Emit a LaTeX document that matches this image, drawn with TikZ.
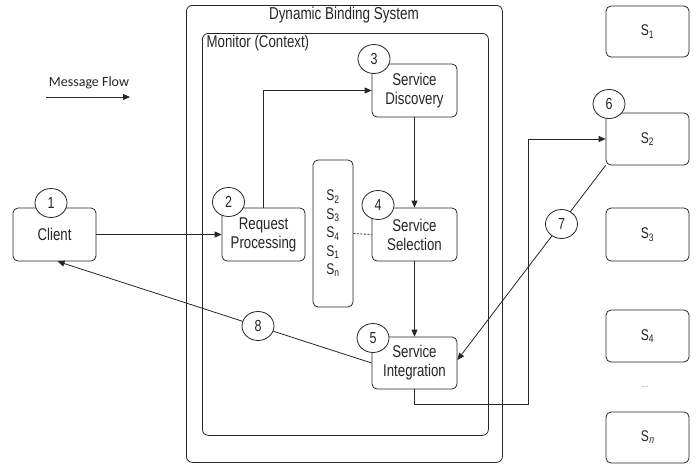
\documentclass[tikz,border=0pt]{standalone}
\usepackage{fontspec}
\setmainfont{Liberation Sans}[FakeStretch=0.78]
\newfontfamily\slsans{Liberation Sans}[FakeStretch=0.78, FakeSlant=0.2]
\newfontfamily\carl{Carlito}
\usetikzlibrary{arrows.meta,shapes.geometric}
\begin{document}
\begin{tikzpicture}[x=1pt,y=-1pt,
  every node/.style={font=\fontsize{17}{19}\selectfont, text=black!85},
  box/.style={draw=black!85, line width=0.8pt, rounded corners=5pt, fill=white, inner sep=0pt, align=center},
  sbox/.style={box, font=\fontsize{15.5}{18.5}\selectfont},
  frame/.style={draw=black!85, line width=0.8pt, rounded corners=6pt, inner sep=0pt},
  num/.style={draw=black!85, line width=0.8pt, ellipse, fill=white, minimum width=32pt, minimum height=29pt, inner sep=0pt, font=\fontsize{16}{18}\selectfont},
  ln/.style={line width=0.8pt, draw=black!85},
  arr/.style={ln, -{Triangle[length=7pt,width=6pt]}}
]
\useasboundingbox (0,0) rectangle (696,464);
% frames
\node[frame, minimum width=316pt, minimum height=457pt, anchor=north west] (dbs) at (186,5) {};
\node[frame, minimum width=286pt, minimum height=402pt, anchor=north west] (mon) at (202,33) {};
\node[font=\fontsize{17.3}{19}\selectfont] (title) at (344,15.5) {Dynamic Binding System};
\node[anchor=west, inner sep=0pt] (montitle) at (206.5,43.5) {Monitor (Context)};
% message flow legend
\node[font=\carl\fontsize{14}{16}\selectfont] (mf) at (89,83) {Message Flow};
\coordinate (mfa) at (46,97);
\coordinate (mfb) at (130,97);
\draw[arr] (mfa) -- (mfb);
% boxes
\node[box, minimum width=83pt, minimum height=53pt] (client) at (54.5,234.5) {Client};
\node[box, minimum width=83pt, minimum height=53pt] (req) at (263.5,234.5) {Request\\Processing};
\node[box, minimum width=85pt, minimum height=53pt] (disc) at (414.5,90.5) {Service\\Discovery};
\node[box, minimum width=85pt, minimum height=53pt] (sel) at (414.5,234.5) {Service\\Selection};
\node[box, minimum width=85pt, minimum height=52pt] (integ) at (414.5,363) {Service\\Integration};
\node[sbox, minimum width=40pt, minimum height=147pt, align=left] (list) at (333,233.5)
  {S\textsubscript{2}\\S\textsubscript{3}\\S\textsubscript{4}\\S\textsubscript{1}\\S\textsubscript{n}};
\node[sbox, minimum width=83pt, minimum height=51pt] (s1) at (647.5,31.5) {S\textsubscript{1}};
\node[sbox, minimum width=83pt, minimum height=52pt] (s2) at (647.5,139) {S\textsubscript{2}};
\node[sbox, minimum width=83pt, minimum height=53pt] (s3) at (647.5,234.5) {S\textsubscript{3}};
\node[sbox, minimum width=83pt, minimum height=52pt] (s4) at (647.5,336) {S\textsubscript{4}};
\node[text=black!50, font=\fontsize{10}{11}\selectfont] (dots) at (645,387) {...};
\node[sbox, minimum width=83pt, minimum height=51pt] (sn) at (647.5,437.5) {S\textsubscript{\slsans n}};
% connectors
\coordinate (rt) at (528,404);
\draw[arr] (client.east) -- (req.west);
\draw[arr] (req.north) |- (disc.west);
\draw[arr] (disc.south) -- (sel.north);
\draw[arr] (sel.south) -- (integ.north);
\draw[ln, dashed, dash pattern=on 2pt off 1.5pt] (list.east) -- (sel.west);
\draw[arr] (integ.south) |- (rt) |- (s2.west);
\draw[arr] (s2.south west) -- ([yshift=3pt]integ.east);
\draw[arr] (integ.west) -- ([xshift=3pt]client.south);
% step numbers
\node[num] (n1) at (51,203) {1};
\node[num] (n2) at (228.5,202) {2};
\node[num] (n3) at (374,59) {3};
\node[num] (n4) at (378,205) {4};
\node[num] (n5) at (373,338) {5};
\node[num] (n6) at (609,104) {6};
\node[num] (n7) at (561.5,224) {7};
\node[num] (n8) at (258,326) {8};
\end{tikzpicture}
\end{document}
